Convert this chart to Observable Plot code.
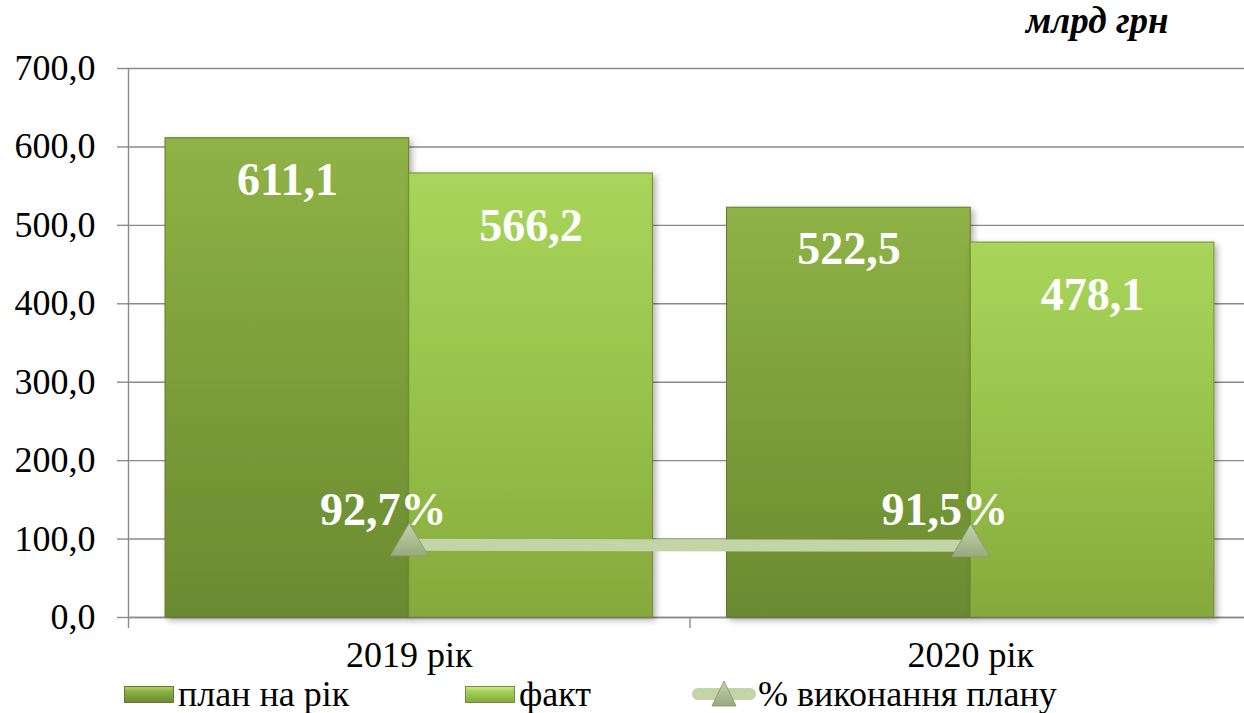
<!DOCTYPE html>
<html><head><meta charset="utf-8">
<script src="https://cdn.jsdelivr.net/npm/d3@7"></script>
<script src="https://cdn.jsdelivr.net/npm/@observablehq/plot@0.6"></script>
<style>
body{margin:0;background:#fff;}
#wrap{position:relative;width:1244px;height:713px;overflow:hidden;font-family:"Liberation Serif";background:#fff;}
#chart{position:absolute;left:0;top:0;}
#chart svg text{font-family:"Liberation Serif";}
#title{position:absolute;left:1026px;top:3px;font-size:37px;font-weight:bold;font-style:italic;color:#000;line-height:36px;}
.leg{position:absolute;top:677px;height:34px;line-height:34px;display:flex;align-items:center;font-size:36px;color:#000;white-space:nowrap;}
.sw{display:inline-block;width:50px;height:17px;margin-right:4px;box-sizing:border-box;}
.sw.plan{background:linear-gradient(#b2d06a 0%,#8cb043 30%,#6d8c32 100%);border:1px solid #5f7a2a;}
.sw.fact{background:linear-gradient(#cde889 0%,#a6d058 30%,#86aa3c 100%);border:1px solid #6f8f30;}
</style></head>
<body>
<div id="wrap"><div id="chart"></div><div id="title">млрд грн</div><div id="legend"></div></div>
<script>
const years = ["2019 рік", "2020 рік"];
const planValues = [611.1, 522.5];
const factValues = [566.2, 478.1];
const percentValues = [92.7, 91.5];
const percentLabels = ["92,7%", "91,5%"];
const seriesNames = ["план на рік", "факт", "% виконання плану"];
const yTicks = [0, 100, 200, 300, 400, 500, 600, 700];

const fmt = v => v.toFixed(1).replace(".", ",");
const barHalf = 0.434;

const planRows = years.map((year, i) => ({i, year, value: planValues[i]}));
const factRows = years.map((year, i) => ({i, year, value: factValues[i]}));
const pctRows = years.map((year, i) => ({i, year, value: percentValues[i], label: percentLabels[i]}));

const gridColor = "#8a8a8a";
const serif = "Liberation Serif";

const svg = Plot.plot({
  width: 1251,
  height: 676,
  marginLeft: 128,
  marginRight: 0,
  marginTop: 68,
  marginBottom: 59,
  style: {fontFamily: serif, fontSize: "36px", background: "transparent", maxWidth: "none", overflow: "visible"},
  x: {domain: [-0.5, 1.5], label: null},
  y: {domain: [0, 700], label: null},
  marks: [
    Plot.gridY({ticks: yTicks, stroke: gridColor, strokeOpacity: 1, strokeWidth: 1.4}),
    Plot.ruleX([-0.5], {stroke: gridColor, strokeWidth: 1.4}),
    Plot.ruleY([0], {stroke: gridColor, strokeWidth: 1.4}),
    Plot.axisY({ticks: yTicks, tickFormat: fmt, tickSize: 11, tickPadding: 22, stroke: gridColor, strokeWidth: 1.4, fill: "black", fontSize: 36, label: null, fontFamily: serif}),
    Plot.axisX({ticks: [-0.5, 0.5, 1.5], tickFormat: () => "", tickSize: 11, stroke: gridColor, strokeWidth: 1.4, label: null}),
    Plot.axisX({ticks: [0, 1], tickFormat: i => years[i], tickSize: 0, tickPadding: 24, fill: "black", fontSize: 36, label: null, fontFamily: serif}),
    Plot.rectY(planRows, {x1: d => d.i - barHalf, x2: d => d.i, y: "value", fill: "url(#gPlan)", stroke: "#5d7a28", strokeWidth: 1}),
    Plot.rectY(factRows, {x1: d => d.i, x2: d => d.i + barHalf, y: "value", fill: "url(#gFact)", stroke: "#6f9030", strokeWidth: 1}),
    Plot.text(planRows, {x: d => d.i - barHalf / 2, y: "value", text: d => fmt(d.value), dy: 42, fill: "white", fontWeight: "bold", fontSize: 46, fontFamily: serif}),
    Plot.text(factRows, {x: d => d.i + barHalf / 2, y: "value", text: d => fmt(d.value), dy: 53, fill: "white", fontWeight: "bold", fontSize: 46, fontFamily: serif}),
    Plot.line(pctRows, {x: "i", y: "value", stroke: "#c3d4a7", strokeWidth: 12}),
    Plot.dot(pctRows, {x: "i", y: "value", symbol: "triangle", r: 14, fill: "url(#gTri)", stroke: "#8e9f78", strokeWidth: 1}),
    Plot.text(pctRows, {x: "i", y: "value", text: "label", dx: -26, dy: -35, fill: "white", fontWeight: "bold", fontSize: 46, fontFamily: serif})
  ]
});

const sel = d3.select(svg);
const defs = sel.insert("defs", ":first-child");
function grad(id, stops) {
  const g = defs.append("linearGradient").attr("id", id).attr("x1", 0).attr("y1", 0).attr("x2", 0).attr("y2", 1);
  stops.forEach(([o, c]) => g.append("stop").attr("offset", o).attr("stop-color", c));
}
grad("gPlan", [[0, "#8fb346"], [0.5, "#7b9e3a"], [1, "#6b8a30"]]);
grad("gFact", [[0, "#a9d55b"], [0.5, "#98c34a"], [1, "#86a93c"]]);
grad("gTri", [[0, "#c4d4ad"], [1, "#97aa7c"]]);
const f = defs.append("filter").attr("id", "shadow").attr("x", "-10%").attr("y", "-10%").attr("width", "130%").attr("height", "130%");
f.append("feDropShadow").attr("dx", 3).attr("dy", 3).attr("stdDeviation", 3).attr("flood-color", "#000").attr("flood-opacity", 0.3);
sel.selectAll('g[aria-label="rect"]').attr("filter", "url(#shadow)");

document.getElementById("chart").appendChild(svg);

// legend
const legend = document.getElementById("legend");
const legendLeft = [124, 465, 691];
seriesNames.forEach((name, k) => {
  const item = document.createElement("div");
  item.className = "leg";
  item.style.left = legendLeft[k] + "px";
  if (k < 2) {
    const sw = document.createElement("span");
    sw.className = "sw " + (k === 0 ? "plan" : "fact");
    item.appendChild(sw);
  } else {
    const ns = "http://www.w3.org/2000/svg";
    const s = document.createElementNS(ns, "svg");
    s.setAttribute("width", 66); s.setAttribute("height", 34);
    s.style.marginRight = "1px";
    s.innerHTML = '<defs><linearGradient id="gTriL" x1="0" y1="0" x2="0" y2="1"><stop offset="0" stop-color="#c4d4ad"/><stop offset="1" stop-color="#97aa7c"/></linearGradient></defs>' +
      '<rect x="1" y="11" width="64" height="12" rx="6" fill="#c3d4a7"/>' +
      '<polygon points="33,4 45,29 21,29" fill="url(#gTriL)" stroke="#8e9f78" stroke-width="1"/>';
    item.appendChild(s);
  }
  item.appendChild(document.createTextNode(name));
  legend.appendChild(item);
});
</script>
</body></html>
